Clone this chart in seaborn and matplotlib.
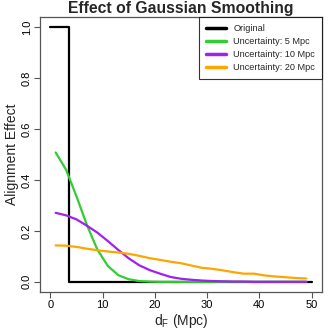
import numpy as np
import pandas as pd
import matplotlib
matplotlib.use("Agg")
import matplotlib.pyplot as plt
import seaborn as sns

sns.set_style("white")
plt.rcParams['font.family'] = ['Liberation Sans', 'DejaVu Sans']
plt.rcParams['mathtext.fontset'] = 'custom'
plt.rcParams['mathtext.rm'] = 'Liberation Sans'

# Data
orig_x = [0, 3.6, 3.6, 50]
orig_y = [1.0, 1.0, 0.0, 0.0]

dist = [1, 3, 5, 7, 9, 11, 13, 15, 17, 19, 21, 23, 25, 27, 29, 31, 33, 35, 37, 39, 41, 43, 45, 47, 49]
unc5 = [0.508, 0.440, 0.335, 0.222, 0.126, 0.062, 0.026, 0.010, 0.003, 0.001, 0.0, 0.0, 0.0, 0.0, 0.0,
        0.0, 0.0, 0.0, 0.0, 0.0, 0.0, 0.0, 0.0, 0.0, 0.0]
unc10 = [0.271, 0.261, 0.245, 0.220, 0.193, 0.160, 0.125, 0.092, 0.065, 0.046, 0.032, 0.019, 0.012,
         0.008, 0.005, 0.003, 0.002, 0.001, 0.001, 0.0, 0.0, 0.0, 0.0, 0.0, 0.0]
unc20 = [0.143, 0.142, 0.137, 0.130, 0.124, 0.119, 0.115, 0.110, 0.102, 0.093, 0.086, 0.079, 0.073,
         0.064, 0.055, 0.051, 0.045, 0.038, 0.032, 0.032, 0.025, 0.021, 0.018, 0.015, 0.013]

labels = ["Original", "Uncertainty: 5 Mpc", "Uncertainty: 10 Mpc", "Uncertainty: 20 Mpc"]
colors = ["black", "#32CD32", "#A020F0", "#FFA500"]

fig = plt.figure(figsize=(3.32, 3.32), dpi=100)
ax = fig.add_axes([40/332, 40/332, 282/332, 275/332])

sns.lineplot(x=orig_x, y=orig_y, sort=False, estimator=None, errorbar=None,
             color=colors[0], lw=1.6, ax=ax, label=labels[0])
for ys, lab, c in zip([unc5, unc10, unc20], labels[1:], colors[1:]):
    sns.lineplot(x=dist, y=ys, color=c, lw=1.6, estimator=None, errorbar=None, ax=ax, label=lab)

ax.set_xlim(-2, 52)
ax.set_ylim(-0.04, 1.04)
ax.set_xticks([0, 10, 20, 30, 40, 50])
ax.set_yticks([0.0, 0.2, 0.4, 0.6, 0.8, 1.0])
ax.set_yticklabels(["0.0", "0.2", "0.4", "0.6", "0.8", "1.0"], rotation=90, va='center')
ax.tick_params(axis='both', direction='out', length=4, width=0.8, color='#555555',
               labelsize=8, labelcolor='black', pad=2, bottom=True, left=True)
for s in ax.spines.values():
    s.set_color('#555555')
    s.set_linewidth(0.9)

ax.set_title("Effect of Gaussian Smoothing", fontsize=11.3, fontweight='bold', pad=3)
ax.set_xlabel(r"$\mathregular{d_F}$ (Mpc)", fontsize=10, labelpad=1)
ax.set_ylabel("Alignment Effect", fontsize=10, labelpad=2)

leg = ax.legend(loc='upper right', borderaxespad=0, fontsize=6.6, frameon=True, fancybox=False,
                handlelength=2.2, handletextpad=0.8, labelspacing=0.45, borderpad=0.75)
leg.get_frame().set_edgecolor('black')
leg.get_frame().set_linewidth(0.8)
for h in leg.get_lines():
    h.set_linewidth(2.5)

fig.savefig("out.png", dpi=100)
